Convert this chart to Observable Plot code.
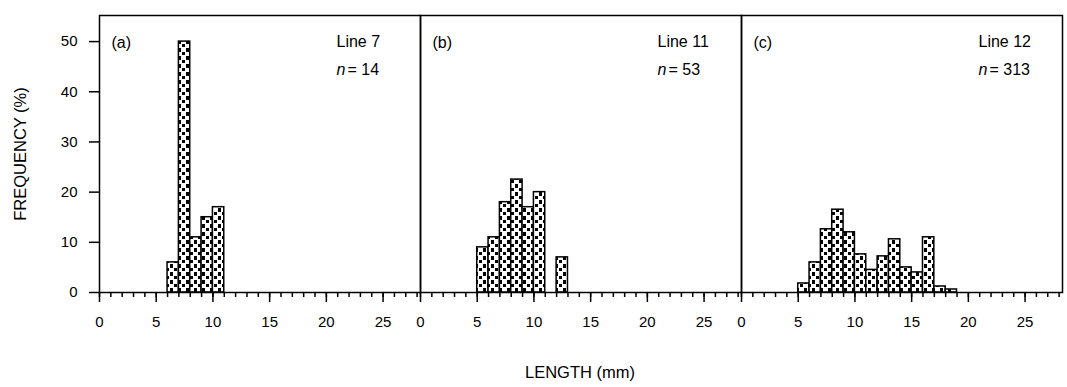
<!DOCTYPE html>
<html>
<head>
<meta charset="utf-8">
<script src="https://cdn.jsdelivr.net/npm/d3@7"></script>
<script src="https://cdn.jsdelivr.net/npm/@observablehq/plot@0.6"></script>
<style>
  body { margin: 0; background: white; font-family: "Liberation Sans", Arial, sans-serif; }
  #xlabel { width: 1067px; height: 35px; line-height: 40px; font-size: 16.5px; color: black; box-sizing: border-box; padding-left: 93px; text-align: center; }
  g[aria-label="y-axis label"] text { font-size: 16.5px; }
</style>
</head>
<body>
<div id="chart"></div>
<div id="xlabel">LENGTH (mm)</div>
<script>
// Panels
const panels = ["a", "b", "c"];
const panelTags = ["(a)", "(b)", "(c)"];
const lineNames = ["Line 7", "Line 11", "Line 12"];
const sampleSizes = [14, 53, 313];

// Histogram bins (1 mm wide; start of bin in mm) and frequencies (%)
const binsA = [6, 7, 8, 9, 10];
const freqA = [6, 50, 11, 15, 17];
const binsB = [5, 6, 7, 8, 9, 10, 12];
const freqB = [9, 11, 18, 22.5, 17, 20, 7];
const binsC = [5, 6, 7, 8, 9, 10, 11, 12, 13, 14, 15, 16, 17, 18];
const freqC = [1.8, 6, 12.6, 16.5, 12, 7.6, 4.5, 7.2, 10.6, 5, 4, 11, 1.2, 0.6];

// Axis ticks
const xMajorTicks = [0, 5, 10, 15, 20, 25];
const xMinorTicks = d3.range(0, 29, 1);
const yTicks = [0, 10, 20, 30, 40, 50];

const binWidth = 1;
const bars = [];
[[binsA, freqA], [binsB, freqB], [binsC, freqC]].forEach(([bins, freq], i) => {
  bins.forEach((b, j) => bars.push({panel: panels[i], x1: b, x2: b + binWidth, freq: freq[j]}));
});
const info = panels.map((p, i) => ({panel: p, tag: panelTags[i], line: lineNames[i], n: "= " + sampleSizes[i]}));

const svg = Plot.plot({
  width: 1067,
  height: 352,
  marginLeft: 98,
  marginRight: 5,
  marginTop: 15,
  marginBottom: 60,
  style: {fontFamily: "'Liberation Sans', Arial, sans-serif", fontSize: "15px", color: "black", background: "white"},
  fx: {domain: panels, padding: 0, axis: null},
  x: {domain: [0, 28.3]},
  y: {domain: [0, 55.2]},
  marks: [
    Plot.rectY(bars, {fx: "panel", x1: "x1", x2: "x2", y: "freq", fill: "url(#speckle)", stroke: "black", strokeWidth: 1.5}),
    Plot.frame({stroke: "black", strokeWidth: 1.5}),
    Plot.axisX({ticks: xMinorTicks, tickSize: 5, tickFormat: () => "", label: null, strokeWidth: 1.5}),
    Plot.axisX({ticks: xMajorTicks, tickSize: 10, tickPadding: 14, fontSize: 15, label: null, strokeWidth: 1.5}),
    Plot.axisY({ticks: yTicks, tickSize: 10, tickPadding: 12, fontSize: 15, strokeWidth: 1.5,
      label: "FREQUENCY (%)", labelAnchor: "center", labelArrow: "none", labelOffset: 85}),
    Plot.text(info, {fx: "panel", text: "tag", frameAnchor: "top-left", textAnchor: "start", dx: 12, dy: 21, fontSize: 16}),
    Plot.text(info, {fx: "panel", text: "line", frameAnchor: "top-right", textAnchor: "start", dx: -84, dy: 20, fontSize: 16}),
    Plot.text(info, {fx: "panel", text: () => "n", frameAnchor: "top-right", textAnchor: "start", dx: -84, dy: 48, fontSize: 16, fontStyle: "italic"}),
    Plot.text(info, {fx: "panel", text: "n", frameAnchor: "top-right", textAnchor: "start", dx: -73, dy: 48, fontSize: 16})
  ]
});

// pattern fill for the bars
const defs = d3.select(svg).insert("defs", ":first-child");
const pat = defs.append("pattern").attr("id", "speckle").attr("patternUnits", "userSpaceOnUse")
  .attr("width", 8).attr("height", 8);
pat.append("rect").attr("width", 8).attr("height", 8).attr("fill", "white");
pat.append("rect").attr("x", 1).attr("y", 0).attr("width", 3).attr("height", 4).attr("fill", "black");
pat.append("rect").attr("x", 5).attr("y", 4).attr("width", 3).attr("height", 3).attr("fill", "black");

document.getElementById("chart").appendChild(svg);
</script>
</body>
</html>
